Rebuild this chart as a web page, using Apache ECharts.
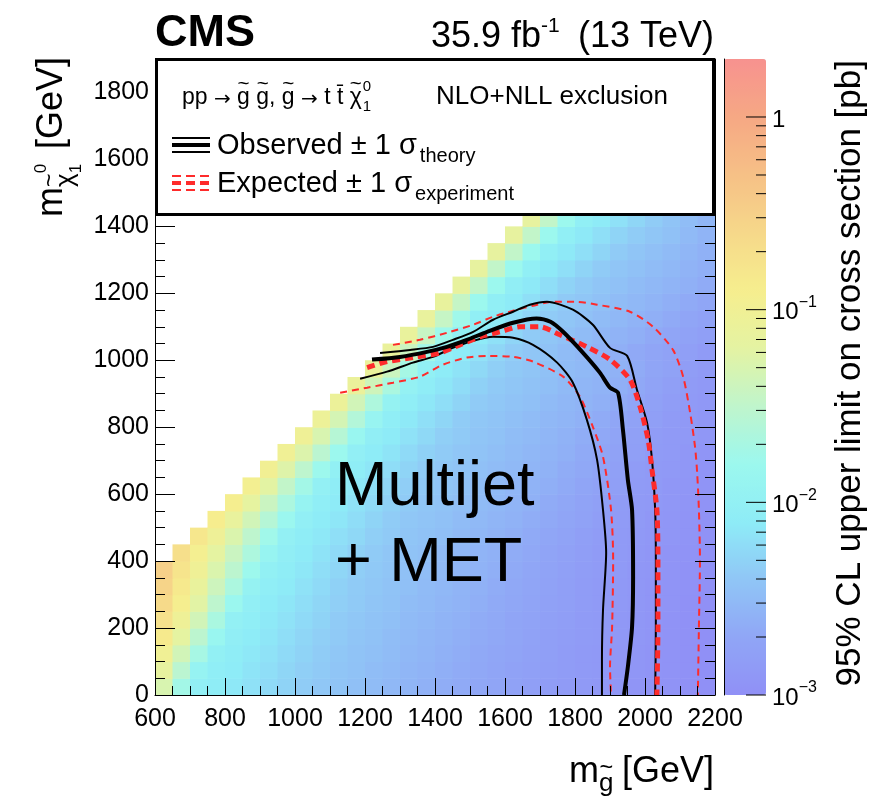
<!DOCTYPE html>
<html>
<head>
<meta charset="utf-8">
<script src="https://cdn.jsdelivr.net/npm/echarts@6/dist/echarts.min.js"></script>
<style>
  html, body { margin: 0; padding: 0; background: #fff; }
  #chart { width: 895px; height: 796px; }
</style>
</head>
<body>
<div id="chart"></div>
<script>
const FONT = "'Liberation Sans', Arial, Helvetica, sans-serif"
const SYMBOL_FONT = "'DejaVu Sans', sans-serif"
const CELL = 50

// mLSP of each heat row (lower edge), GeV
const mLsp = [0, 50, 100, 150, 200, 250, 300, 350, 400, 450, 500, 550, 600, 650, 700,
  750, 800, 850, 900, 950, 1000, 1050, 1100, 1150, 1200, 1250, 1300, 1350, 1400]

// log10 of the 95% CL limit [pb]; each row ends at mgluino = 2200,
// so the first cell of a row starts at 2200 - 50 * row.length
const logLimit = [
  [-1.30, -1.74, -2.02, -2.08, -2.13, -2.19, -2.24, -2.30, -2.35, -2.39, -2.42, -2.46, -2.49, -2.53, -2.56, -2.60, -2.63, -2.66, -2.69, -2.72, -2.75, -2.79, -2.82, -2.85, -2.87, -2.89, -2.91, -2.93, -2.94, -2.96, -2.98, -3.00],
  [-1.15, -1.54, -1.92, -2.05, -2.10, -2.16, -2.21, -2.27, -2.33, -2.37, -2.41, -2.44, -2.48, -2.51, -2.55, -2.58, -2.62, -2.65, -2.68, -2.71, -2.75, -2.78, -2.81, -2.84, -2.87, -2.88, -2.90, -2.92, -2.94, -2.96, -2.98, -3.00],
  [-1.00, -1.36, -1.71, -2.01, -2.07, -2.13, -2.18, -2.24, -2.30, -2.35, -2.39, -2.43, -2.46, -2.49, -2.53, -2.56, -2.60, -2.63, -2.67, -2.70, -2.73, -2.77, -2.80, -2.83, -2.86, -2.88, -2.90, -2.92, -2.94, -2.96, -2.98, -3.00],
  [-0.85, -1.19, -1.53, -1.86, -2.04, -2.09, -2.15, -2.21, -2.27, -2.33, -2.37, -2.41, -2.44, -2.48, -2.51, -2.55, -2.58, -2.62, -2.65, -2.68, -2.72, -2.75, -2.79, -2.82, -2.85, -2.87, -2.89, -2.91, -2.93, -2.96, -2.98, -3.00],
  [-0.72, -1.04, -1.36, -1.68, -2.00, -2.06, -2.12, -2.18, -2.24, -2.30, -2.36, -2.39, -2.43, -2.46, -2.50, -2.53, -2.57, -2.60, -2.64, -2.67, -2.71, -2.74, -2.78, -2.81, -2.85, -2.87, -2.89, -2.91, -2.93, -2.96, -2.98, -3.00],
  [-0.62, -0.92, -1.22, -1.52, -1.82, -2.02, -2.09, -2.15, -2.21, -2.27, -2.33, -2.37, -2.41, -2.44, -2.48, -2.51, -2.55, -2.58, -2.62, -2.66, -2.69, -2.73, -2.77, -2.80, -2.84, -2.86, -2.88, -2.91, -2.93, -2.95, -2.98, -3.00],
  [-0.55, -0.83, -1.11, -1.39, -1.67, -1.94, -2.05, -2.11, -2.18, -2.24, -2.31, -2.36, -2.39, -2.43, -2.46, -2.50, -2.53, -2.57, -2.60, -2.64, -2.68, -2.72, -2.75, -2.79, -2.83, -2.86, -2.88, -2.90, -2.93, -2.95, -2.97, -2.99],
  [-0.50, -0.76, -1.02, -1.28, -1.53, -1.79, -2.01, -2.08, -2.14, -2.21, -2.27, -2.34, -2.38, -2.41, -2.45, -2.48, -2.51, -2.55, -2.58, -2.62, -2.66, -2.70, -2.74, -2.78, -2.82, -2.85, -2.87, -2.90, -2.92, -2.95, -2.97, -2.99],
  [-0.70, -0.94, -1.18, -1.42, -1.66, -1.90, -2.04, -2.11, -2.17, -2.24, -2.31, -2.36, -2.40, -2.43, -2.46, -2.50, -2.53, -2.57, -2.60, -2.64, -2.68, -2.73, -2.77, -2.81, -2.85, -2.87, -2.89, -2.92, -2.94, -2.96, -2.98],
  [-0.80, -1.04, -1.28, -1.52, -1.76, -2.00, -2.07, -2.13, -2.20, -2.26, -2.33, -2.37, -2.41, -2.44, -2.47, -2.51, -2.54, -2.58, -2.62, -2.66, -2.70, -2.74, -2.79, -2.83, -2.86, -2.88, -2.90, -2.92, -2.95, -2.97],
  [-0.88, -1.12, -1.36, -1.59, -1.83, -2.02, -2.09, -2.15, -2.22, -2.29, -2.35, -2.39, -2.42, -2.45, -2.49, -2.52, -2.56, -2.59, -2.63, -2.67, -2.72, -2.76, -2.81, -2.85, -2.87, -2.90, -2.92, -2.95, -2.97],
  [-0.92, -1.17, -1.42, -1.67, -1.92, -2.05, -2.11, -2.18, -2.24, -2.31, -2.36, -2.40, -2.43, -2.47, -2.50, -2.53, -2.57, -2.60, -2.65, -2.69, -2.74, -2.78, -2.83, -2.86, -2.88, -2.91, -2.93, -2.96],
  [-0.95, -1.21, -1.48, -1.74, -2.00, -2.07, -2.13, -2.20, -2.27, -2.34, -2.38, -2.41, -2.44, -2.48, -2.51, -2.55, -2.58, -2.62, -2.66, -2.71, -2.76, -2.80, -2.85, -2.87, -2.90, -2.92, -2.95],
  [-0.98, -1.25, -1.52, -1.79, -2.01, -2.08, -2.15, -2.22, -2.29, -2.35, -2.39, -2.42, -2.46, -2.49, -2.52, -2.56, -2.59, -2.64, -2.68, -2.73, -2.78, -2.83, -2.86, -2.88, -2.91, -2.94],
  [-1.00, -1.27, -1.54, -1.81, -2.02, -2.09, -2.16, -2.24, -2.31, -2.36, -2.40, -2.43, -2.47, -2.50, -2.54, -2.57, -2.61, -2.66, -2.71, -2.75, -2.80, -2.85, -2.87, -2.90, -2.93],
  [-1.02, -1.30, -1.58, -1.86, -2.04, -2.11, -2.18, -2.25, -2.33, -2.37, -2.41, -2.44, -2.48, -2.51, -2.55, -2.59, -2.63, -2.68, -2.73, -2.78, -2.83, -2.86, -2.88, -2.91],
  [-1.05, -1.33, -1.61, -1.89, -2.05, -2.12, -2.20, -2.27, -2.35, -2.39, -2.42, -2.46, -2.49, -2.53, -2.56, -2.60, -2.65, -2.70, -2.75, -2.80, -2.85, -2.88, -2.90],
  [-1.07, -1.36, -1.65, -1.94, -2.06, -2.14, -2.21, -2.29, -2.36, -2.39, -2.43, -2.46, -2.50, -2.54, -2.57, -2.61, -2.66, -2.71, -2.77, -2.82, -2.86, -2.89],
  [-1.09, -1.38, -1.68, -1.97, -2.07, -2.15, -2.23, -2.31, -2.37, -2.40, -2.44, -2.47, -2.51, -2.55, -2.58, -2.62, -2.68, -2.74, -2.79, -2.85, -2.88],
  [-1.10, -1.41, -1.72, -2.01, -2.09, -2.17, -2.25, -2.33, -2.38, -2.41, -2.45, -2.49, -2.52, -2.56, -2.59, -2.65, -2.71, -2.76, -2.82, -2.86],
  [-1.10, -1.42, -1.74, -2.02, -2.10, -2.18, -2.27, -2.35, -2.40, -2.44, -2.49, -2.53, -2.58, -2.62, -2.67, -2.71, -2.76, -2.80, -2.85],
  [-1.11, -1.44, -1.77, -2.03, -2.11, -2.19, -2.28, -2.36, -2.40, -2.45, -2.49, -2.54, -2.58, -2.62, -2.67, -2.71, -2.76, -2.80],
  [-1.12, -1.45, -1.77, -2.03, -2.11, -2.20, -2.28, -2.36, -2.40, -2.45, -2.49, -2.53, -2.58, -2.62, -2.66, -2.71, -2.75],
  [-1.13, -1.46, -1.80, -2.03, -2.11, -2.20, -2.29, -2.37, -2.40, -2.45, -2.49, -2.53, -2.57, -2.62, -2.66, -2.70],
  [-1.14, -1.47, -1.80, -2.04, -2.12, -2.21, -2.30, -2.36, -2.41, -2.45, -2.49, -2.53, -2.57, -2.61, -2.65],
  [-1.15, -1.48, -1.81, -2.03, -2.12, -2.20, -2.29, -2.36, -2.41, -2.45, -2.49, -2.53, -2.58, -2.62],
  [-1.15, -1.48, -1.81, -2.03, -2.12, -2.20, -2.28, -2.36, -2.41, -2.46, -2.50, -2.55, -2.60],
  [-1.15, -1.48, -1.81, -2.03, -2.12, -2.20, -2.29, -2.35, -2.40, -2.45, -2.51, -2.57],
  [-1.15, -1.48, -1.81, -2.03, -2.11, -2.19, -2.27, -2.35, -2.42, -2.48, -2.55]
]

// exclusion contours [mgluino, mLSP] in GeV
const obsCentral = [[1220, 1002], [1300, 1010], [1377, 1025], [1434, 1040], [1491, 1061], [1549, 1085],
  [1623, 1112], [1690, 1125], [1730, 1115], [1766, 1085], [1823, 1022], [1871, 963], [1900, 918],
  [1923, 903], [1937, 792], [1951, 643], [1963, 553], [1966, 353], [1963, 203], [1951, 84], [1940, 0]]
const obsUp = [[1243, 1022], [1329, 1031], [1394, 1040], [1451, 1061], [1509, 1085], [1566, 1121],
  [1623, 1145], [1671, 1166], [1720, 1175], [1794, 1151], [1851, 1106], [1900, 1037], [1949, 1013],
  [1977, 912], [2006, 813], [2020, 703], [2029, 553], [2031, 404], [2031, 203], [2029, 0]]
const obsDown = [[1186, 945], [1263, 966], [1337, 993], [1394, 1010], [1451, 1037], [1509, 1058],
  [1566, 1070], [1623, 1067], [1680, 1046], [1749, 993], [1794, 933], [1834, 822], [1863, 703],
  [1880, 553], [1889, 425], [1880, 254], [1877, 105], [1877, 0]]
const expCentral = [[1206, 978], [1263, 996], [1337, 1008], [1414, 1022], [1471, 1046], [1529, 1070],
  [1586, 1085], [1643, 1100], [1700, 1100], [1757, 1076], [1834, 1040], [1900, 1002], [1957, 942],
  [1986, 861], [2009, 762], [2020, 673], [2034, 553], [2037, 404], [2037, 203], [2034, 0]]
const expUp = [[1280, 1046], [1357, 1061], [1434, 1082], [1509, 1106], [1566, 1130], [1623, 1148],
  [1680, 1163], [1737, 1175], [1800, 1175], [1863, 1166], [1957, 1145], [2023, 1100], [2080, 1031],
  [2109, 951], [2129, 843], [2143, 741], [2149, 664], [2154, 553], [2157, 404], [2154, 203], [2151, 0]]
const expDown = [[1129, 903], [1206, 918], [1280, 933], [1357, 951], [1423, 987], [1491, 1008],
  [1549, 1013], [1623, 1010], [1680, 996], [1766, 951], [1814, 891], [1851, 801], [1880, 712],
  [1903, 553], [1909, 404], [1906, 203], [1900, 84], [1903, 0]]

// colour bar ticks [pb]
const cbMajor = [0.001, 0.01, 0.1, 1]
const cbMinor = [0.002, 0.003, 0.004, 0.005, 0.006, 0.007, 0.008, 0.009,
  0.02, 0.03, 0.04, 0.05, 0.06, 0.07, 0.08, 0.09,
  0.2, 0.3, 0.4, 0.5, 0.6, 0.7, 0.8, 0.9]

// palette, evenly spaced from log10 = -3 to 0.3
const palette = ['#9090f6', '#90a6f6', '#90c6f6', '#8eecf7', '#9cf8ee', '#c0f5cc',
  '#e4f3a2', '#f6ee8e', '#f6d88a', '#f6c086', '#f6a884', '#f7928f']

const heatData = []
logLimit.forEach((row, i) => {
  const x0 = 2200 - CELL * row.length
  row.forEach((v, j) => heatData.push([x0 + CELL * j, mLsp[i], v]))
})

const cbTicks = cbMajor.map((v) => [1, v, 20]).concat(cbMinor.map((v) => [1, v, 10]))

// text placed by its baseline
const txt = (x, base, text, size, extra) => ({
  type: 'text', x: x, y: base - 0.31 * size, z: 120,
  style: Object.assign({
    text: text, font: size + 'px ' + FONT, fill: '#000',
    textAlign: 'left', textVerticalAlign: 'middle'
  }, extra || {})
})

// a run of text pieces: sub/superscripts through dy, tildes drawn as a raised "~"
const measureCtx = document.createElement('canvas').getContext('2d')
const textWidth = (t, font) => {
  measureCtx.font = font
  return measureCtx.measureText(t).width
}
const run = (x, base, parts) => {
  const els = []
  let cx = x
  parts.forEach((p) => {
    const font = (p.bold ? 'bold ' : '') + p.size + 'px ' + (p.family || FONT)
    const w = textWidth(p.t, font)
    const b = base + (p.dy || 0)
    els.push(txt(cx, b, p.t, p.size, { font: font }))
    if (p.tilde) {
      const ts = p.size * 0.9
      els.push(txt(cx + w / 2, b - p.size * 0.62, '~', ts, { textAlign: 'center', font: ts + 'px ' + FONT }))
    }
    if (!p.stack) cx += w + (p.gap || 0)
  })
  return els
}

const hline = (x1, x2, y, color, width, dash) => ({
  type: 'line', z: 120,
  shape: { x1: x1, y1: y, x2: x2, y2: y },
  style: { stroke: color, lineWidth: width, lineDash: dash || null }
})

const contour = (data, color, width, dash, z) => ({
  type: 'line', xAxisIndex: 0, yAxisIndex: 0, data: data,
  showSymbol: false, symbol: 'none', smooth: 0.25, silent: true, z: z,
  lineStyle: { color: color, width: width, type: dash || 'solid' }
})

const RED = '#fe2b2b'
const tickStyle = { color: '#000', width: 1 }
const plain = (v) => String(v)
const ARROW = { t: '\u2192', size: 20, family: SYMBOL_FONT, dy: 1 }

const option = {
  animation: false,
  backgroundColor: '#fff',
  grid: [
    { left: 155, top: 59, width: 560, height: 636 },
    { left: 724, top: 59, width: 42, height: 636 }
  ],
  xAxis: [
    {
      gridIndex: 0, type: 'value', min: 600, max: 2200, interval: 200, z: 10,
      axisLine: { lineStyle: tickStyle },
      axisTick: { inside: true, length: 17, lineStyle: tickStyle },
      minorTick: { show: true, splitNumber: 4, length: 9, lineStyle: tickStyle },
      axisLabel: { color: '#000', fontSize: 25, fontFamily: FONT, margin: 12, formatter: plain },
      splitLine: { show: false }
    },
    { gridIndex: 1, type: 'value', min: 0, max: 1, show: false }
  ],
  yAxis: [
    {
      gridIndex: 0, type: 'value', min: 0, max: 1900, interval: 200, z: 10,
      axisLine: { show: true, lineStyle: tickStyle },
      axisTick: { inside: true, length: 20, lineStyle: tickStyle },
      minorTick: { show: true, splitNumber: 4, length: 10, lineStyle: tickStyle },
      axisLabel: { color: '#000', fontSize: 25, fontFamily: FONT, margin: 6, showMaxLabel: false, formatter: plain },
      splitLine: { show: false }
    },
    {
      gridIndex: 0, type: 'value', min: 0, max: 1900, interval: 200, position: 'right', z: 10,
      axisLine: { show: true, lineStyle: tickStyle },
      axisTick: { inside: true, length: 20, lineStyle: tickStyle },
      minorTick: { show: true, splitNumber: 4, length: 10, lineStyle: tickStyle },
      axisLabel: { show: false },
      splitLine: { show: false }
    },
    {
      gridIndex: 1, type: 'log', logBase: 10, min: 0.001, max: 2, position: 'right', z: 10,
      axisLine: { show: true, lineStyle: tickStyle },
      axisTick: { show: false },
      splitLine: { show: false },
      axisLabel: {
        color: '#000', fontFamily: FONT, margin: 6, showMaxLabel: false,
        formatter: (v) => {
          const l = Math.log10(v)
          const e = Math.round(l)
          if (Math.abs(l - e) > 1e-6) return ''
          return e === 0 ? '{b|1}' : '{b|10}{s|\u2212' + (-e) + '}'
        },
        rich: {
          b: { fontSize: 24, fontFamily: FONT, color: '#000', lineHeight: 30, verticalAlign: 'bottom' },
          s: { fontSize: 16, fontFamily: FONT, color: '#000', lineHeight: 16, verticalAlign: 'top' }
        }
      }
    }
  ],
  visualMap: {
    type: 'continuous', seriesIndex: 0, dimension: 2,
    min: -3, max: Math.log10(2),
    left: 724, top: 59, itemWidth: 42, itemHeight: 636, padding: 0,
    calculable: false, hoverLink: false,
    inRange: { color: palette }
  },
  series: [
    {
      type: 'custom', xAxisIndex: 0, yAxisIndex: 0, data: heatData, silent: true, z: 1, clip: true,
      encode: { x: 0, y: 1 },
      renderItem: (params, api) => {
        const p0 = api.coord([api.value(0), api.value(1) + CELL])
        const p1 = api.coord([api.value(0) + CELL, api.value(1)])
        return {
          type: 'rect',
          shape: { x: p0[0], y: p0[1], width: p1[0] - p0[0] + 0.6, height: p1[1] - p0[1] + 0.6 },
          style: { fill: api.visual('color') }
        }
      }
    },
    contour(expUp, RED, 2, [7, 5], 3),
    contour(expDown, RED, 2, [7, 5], 3),
    contour(obsUp, '#000', 2, null, 4),
    contour(obsDown, '#000', 2, null, 4),
    contour(expCentral, RED, 5, [8, 5], 5),
    contour(obsCentral, '#000', 4, null, 6),
    {
      type: 'custom', xAxisIndex: 1, yAxisIndex: 2, data: cbTicks, silent: true, z: 5,
      encode: { x: 0, y: 1 },
      renderItem: (params, api) => {
        const p = api.coord([1, api.value(1)])
        return {
          type: 'line',
          shape: { x1: p[0] - api.value(2), y1: p[1], x2: p[0], y2: p[1] },
          style: { stroke: '#000', lineWidth: 1 }
        }
      }
    }
  ],
  graphic: [
    // legend box
    {
      type: 'rect', z: 100,
      shape: { x: 156.5, y: 59.5, width: 557, height: 155 },
      style: { fill: '#fff', stroke: '#000', lineWidth: 3 }
    },
    ...run(182, 105, [
      { t: 'pp ', size: 23 }, ARROW, { t: ' ', size: 23 },
      { t: 'g', size: 23, tilde: true }, { t: ' ', size: 23 },
      { t: 'g', size: 23, tilde: true }, { t: ', ', size: 23 },
      { t: 'g', size: 23, tilde: true }, { t: ' ', size: 23 }, ARROW,
      { t: ' t t\u0304 ', size: 23 },
      { t: '\u03c7', size: 23, tilde: true, gap: 1 },
      { t: '0', size: 15, dy: -13, stack: true },
      { t: '1', size: 15, dy: 7 }
    ]),
    txt(436, 105, 'NLO+NLL exclusion', 26),
    hline(172, 210, 138, '#000', 2),
    hline(172, 210, 145, '#000', 4),
    hline(172, 210, 152, '#000', 2),
    ...run(217, 155, [{ t: 'Observed \u00b1 1 \u03c3', size: 29, gap: 3 }, { t: 'theory', size: 20, dy: 8 }]),
    hline(172, 210, 176, RED, 2, [9, 5]),
    hline(172, 210, 183, RED, 4, [9, 5]),
    hline(172, 210, 190, RED, 2, [9, 5]),
    ...run(217, 193, [{ t: 'Expected \u00b1 1 \u03c3', size: 29, gap: 3 }, { t: 'experiment', size: 20, dy: 8 }]),

    // header
    txt(155, 48, 'CMS', 45, { font: 'bold 45px ' + FONT }),
    ...run(431, 48, [{ t: '35.9 fb', size: 36 }, { t: '-1', size: 21, dy: -15 }]),
    txt(714, 48, '(13 TeV)', 36, { textAlign: 'right' }),

    // x axis title
    ...run(569, 783, [{ t: 'm', size: 36 }, { t: 'g', size: 26, dy: 9, tilde: true }]),
    txt(714, 783, '[GeV]', 36, { textAlign: 'right' }),

    // y axis title
    {
      type: 'group', x: 63, y: 57, rotation: Math.PI / 2,
      children: [
        txt(0, 0, '[GeV]', 36, { textAlign: 'right' }),
        ...run(-160, 0, [
          { t: 'm', size: 36 },
          { t: '\u03c7', size: 26, dy: 11, tilde: true },
          { t: '0', size: 17, dy: -16, stack: true },
          { t: '1', size: 17, dy: 19 }
        ])
      ]
    },

    // colour bar title
    {
      type: 'group', x: 861, y: 60, rotation: Math.PI / 2,
      children: [
        txt(0, 0, '95% CL upper limit on cross section [pb]', 35, { textAlign: 'right' })
      ]
    },

    // analysis label
    txt(335, 507, 'Multijet', 63),
    txt(335, 583, '+ MET', 63)
  ]
}

const chart = echarts.init(document.getElementById('chart'), null, { renderer: 'canvas' })
chart.setOption(option)
</script>
</body>
</html>
